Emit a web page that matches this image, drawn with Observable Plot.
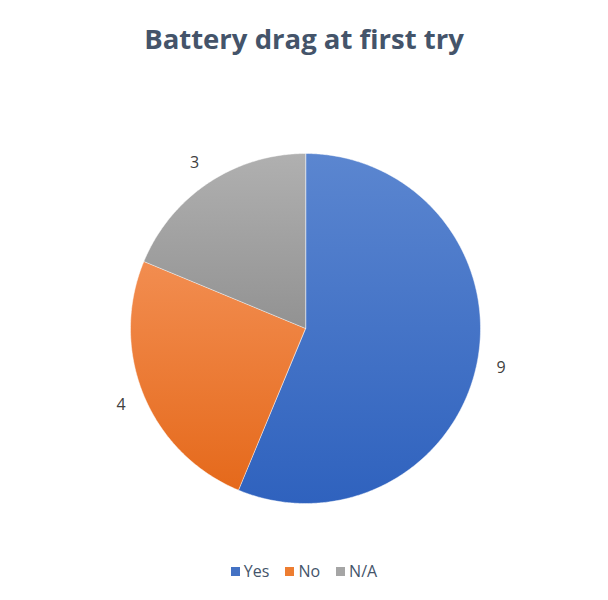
<!DOCTYPE html>
<html>
<head>
<meta charset="utf-8">
<script src="https://cdn.jsdelivr.net/npm/d3@7"></script>
<script src="https://cdn.jsdelivr.net/npm/@observablehq/plot@0.6"></script>
<style>
  html, body { margin: 0; padding: 0; background: #fff; }
  body { width: 608px; height: 600px; position: relative; font-family: "Open Sans", Lato, sans-serif; }
  #title { height: 78px; line-height: 78px; text-align: center; font-family: "Open Sans", sans-serif; font-weight: 700; font-size: 27.5px; color: #44546A; }
  #legend { position: absolute; left: 0; right: 0; top: 560px; text-align: center; font-size: 16px; color: #44546A; }
  #legend span.item { display: inline-block; margin: 0 8px; }
  #legend span.sw { display: inline-block; width: 9px; height: 9px; margin-right: 4px; vertical-align: 1px; }
</style>
</head>
<body>
<svg width="0" height="0" style="position:absolute">
  <defs>
    <linearGradient id="gYes" x1="0" y1="0" x2="0" y2="1">
      <stop offset="0" stop-color="#5B86D0"/>
      <stop offset="1" stop-color="#2F62BE"/>
    </linearGradient>
    <linearGradient id="gNo" x1="0" y1="0" x2="0" y2="1">
      <stop offset="0" stop-color="#F28D50"/>
      <stop offset="1" stop-color="#E5691B"/>
    </linearGradient>
    <linearGradient id="gNA" x1="0" y1="0" x2="0" y2="1">
      <stop offset="0" stop-color="#B0B0B0"/>
      <stop offset="1" stop-color="#929292"/>
    </linearGradient>
  </defs>
</svg>
<div id="title">Battery drag at first try</div>
<div id="chart"></div>
<div id="legend"></div>
<script>
const categories = ["Yes", "No", "N/A"];
const values = [9, 4, 3];
const gradients = ["url(#gYes)", "url(#gNo)", "url(#gNA)"];
const legendColors = ["#4472C4", "#ED7D31", "#A5A5A5"];

const W = 608, H = 460, R = 175, CX = 305, CY = 250;
const data = categories.map((c, i) => ({category: c, value: values[i]}));
const arcs = d3.pie().sort(null).value(d => d.value)(data);

const pts = [];
arcs.forEach(a => {
  const c = a.data.category;
  pts.push({category: c, x: 0, y: 0});
  const n = Math.max(2, Math.ceil((a.endAngle - a.startAngle) / (Math.PI / 360)));
  for (let k = 0; k <= n; k++) {
    const t = a.startAngle + (a.endAngle - a.startAngle) * k / n;
    pts.push({category: c, x: Math.sin(t), y: Math.cos(t)});
  }
});
const labelR = 1.14;
const labels = arcs.map(a => {
  const t = (a.startAngle + a.endAngle) / 2;
  return {category: a.data.category, value: a.data.value, x: labelR * Math.sin(t), y: labelR * Math.cos(t)};
});

const chart = Plot.plot({
  width: W, height: H,
  margin: 0,
  x: {domain: [-CX / R, (W - CX) / R], range: [0, W], axis: null},
  y: {domain: [-(H - CY) / R, CY / R], range: [H, 0], axis: null},
  color: {domain: categories, range: gradients},
  marks: [
    Plot.line(pts, {x: "x", y: "y", z: "category", fill: "category", stroke: "white", strokeWidth: 0.6, strokeOpacity: 0.8, curve: "linear-closed"}),
    Plot.text(labels, {x: "x", y: "y", text: d => String(d.value), fontSize: 16, fill: "#404040", fontFamily: "Open Sans, sans-serif"})
  ]
});
document.getElementById("chart").appendChild(chart);

const legend = d3.select("#legend");
categories.forEach((c, i) => {
  const item = legend.append("span").attr("class", "item");
  item.append("span").attr("class", "sw").style("background", legendColors[i]);
  item.append("span").text(c);
});
</script>
</body>
</html>
